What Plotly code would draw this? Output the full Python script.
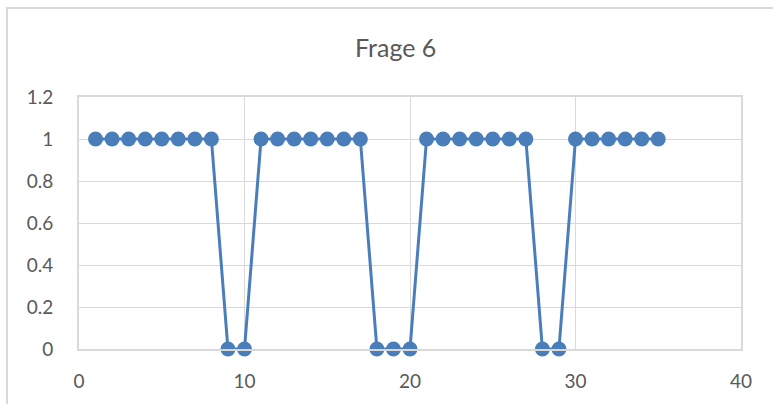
import plotly.graph_objects as go

# Frage 6: answer per participant (1 = correct, 0 = wrong)
participants = list(range(1, 36))
answers = [1, 1, 1, 1, 1, 1, 1, 1, 0, 0,
           1, 1, 1, 1, 1, 1, 1, 0, 0, 0,
           1, 1, 1, 1, 1, 1, 1, 0, 0, 1,
           1, 1, 1, 1, 1]

x_ticks = [0, 10, 20, 30, 40]
y_ticks = [0, 0.2, 0.4, 0.6, 0.8, 1.0, 1.2]
y_tick_text = ["0", "0.2", "0.4", "0.6", "0.8", "1", "1.2"]

blue = "#4a7ebb"
grid = "#d9d9d9"
text_gray = "#595959"
font_family = "Lato, Carlito, Calibri, sans-serif"

fig = go.Figure()
fig.add_trace(go.Scatter(
    x=participants, y=answers, mode="lines+markers",
    line=dict(color=blue, width=3),
    marker=dict(color=blue, size=15),
    showlegend=False, cliponaxis=False,
))

L, R, T, B = 79, 32, 97, 55
W, H = 773, 404
pw, ph = W - L - R, H - T - B

fig.update_layout(
    width=W, height=H,
    margin=dict(l=L, r=R, t=T, b=B),
    paper_bgcolor="white", plot_bgcolor="white",
    font=dict(family=font_family, color=text_gray, size=19),
    xaxis=dict(range=[0, 40], tickvals=x_ticks, showgrid=True, gridcolor=grid,
               gridwidth=1, zeroline=False, showline=True, linecolor=grid,
               linewidth=2, mirror=True, ticks="", ticklabelstandoff=14,
               tickfont=dict(size=19), fixedrange=True),
    yaxis=dict(range=[0, 1.2], tickvals=y_ticks, ticktext=y_tick_text,
               showgrid=True, gridcolor=grid, gridwidth=1, zeroline=False,
               showline=True, linecolor=grid, linewidth=2, mirror=True,
               ticks="", ticklabelstandoff=20, tickfont=dict(size=19),
               fixedrange=True),
)

# outer chart-area frame
fig.add_shape(type="rect", xref="paper", yref="paper",
              x0=(7 - L) / pw, x1=(W + 20 - L) / pw,
              y0=-(H + 20 - (T + ph)) / ph, y1=(T + ph - 8) / ph,
              line=dict(color=grid, width=2), fillcolor="rgba(0,0,0,0)",
              layer="below")

# chart title
fig.add_annotation(text="Frage 6", xref="paper", yref="paper",
                   x=(395 - L) / pw, y=(T + ph - 47) / ph,
                   xanchor="center", yanchor="middle", showarrow=False,
                   font=dict(size=25, color=text_gray, family=font_family))

fig.write_html("out.html")
